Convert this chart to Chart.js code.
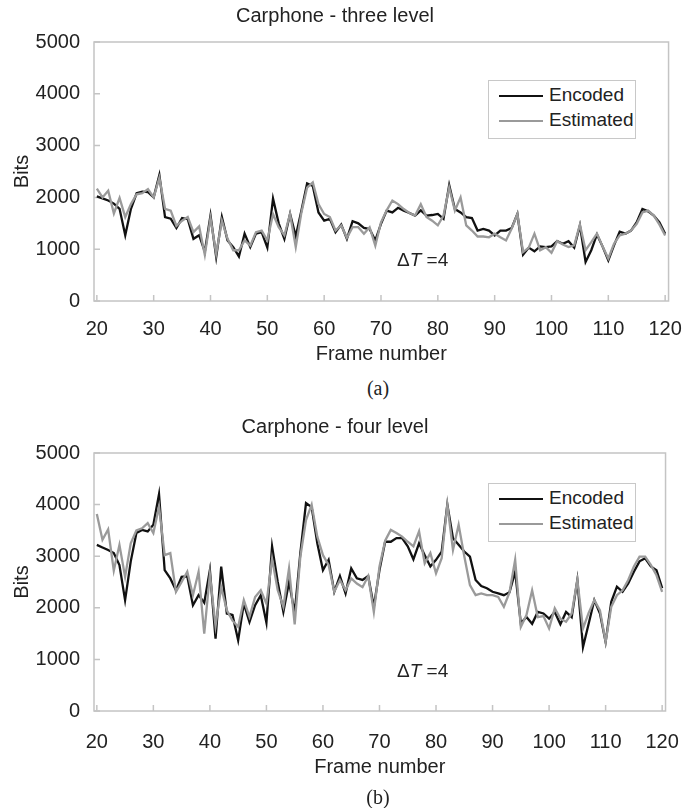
<!DOCTYPE html>
<html lang="en">
<head>
<meta charset="UTF-8" />
<title>Carphone - bits per frame</title>
<script src="https://cdn.jsdelivr.net/npm/chart.js"></script>
<style>
  html, body { margin: 0; padding: 0; background: #fff; }
  .page { position: relative; width: 698px; height: 808px; overflow: hidden;
          font-family: "Liberation Sans", Arial, sans-serif; color: #222; }
  .panel { position: absolute; left: 0; width: 698px; }
  .legend { position: absolute; left: 488px; width: 146px; height: 57px;
            border: 1px solid #c8c8c8; background: #fff; font-size: 19px; }
  .legend .item { position: absolute; left: 10px; height: 22px; line-height: 22px; white-space: nowrap; }
  .legend .swatch { display: inline-block; width: 44px; height: 2px; vertical-align: middle; margin-right: 6px; }
  .dt { position: absolute; left: 397px; font-size: 19px; line-height: 22px; white-space: nowrap; }
  .dt i { font-style: italic; }
  .caption { position: absolute; left: 0; width: 756px; text-align: center;
             font-family: "Liberation Serif", "Times New Roman", serif; font-size: 20px; line-height: 24px; }
</style>
</head>
<body>
<div class="page">
  <canvas id="chartA" class="panel" width="698" height="370" style="top:0"></canvas>
  <canvas id="chartB" class="panel" width="698" height="380" style="top:411px"></canvas>

  <div class="legend" style="top:80px">
    <div class="item" style="top:3px"><span class="swatch" style="background:#111"></span>Encoded</div>
    <div class="item" style="top:28px"><span class="swatch" style="background:#9a9a9a"></span>Estimated</div>
  </div>
  <div class="legend" style="top:483px">
    <div class="item" style="top:3px"><span class="swatch" style="background:#111"></span>Encoded</div>
    <div class="item" style="top:28px"><span class="swatch" style="background:#9a9a9a"></span>Estimated</div>
  </div>

  <div class="dt" style="top:249px">&Delta;<i>T</i> =4</div>
  <div class="dt" style="top:660px">&Delta;<i>T</i> =4</div>

  <div class="caption" style="top:376px">(a)</div>
  <div class="caption" style="top:785px">(b)</div>
</div>

<script>
  // frame numbers 20..120
  const frames = Array.from({ length: 101 }, (_, i) => 20 + i);
  const xTicks = [20, 30, 40, 50, 60, 70, 80, 90, 100, 110, 120];
  const yTicks = [0, 1000, 2000, 3000, 4000, 5000];

  // (a) three level
  const threeEncoded = [
    2020, 1980, 1940, 1880, 1780, 1270, 1780, 2080, 2110, 2100,
    2000, 2430, 1620, 1590, 1410, 1600, 1580, 1200, 1270, 950,
    1650, 850, 1620, 1170, 1040, 860, 1300, 1040, 1300, 1330,
    1030, 1980, 1500, 1200, 1680, 1250, 1745, 2270, 2220, 1710,
    1550, 1585, 1330, 1475, 1200, 1540, 1500, 1410, 1390, 1170,
    1490, 1745, 1710, 1800, 1745, 1700, 1650, 1750, 1650, 1660,
    1680, 1585, 2240, 1775, 1710, 1620, 1600, 1360, 1390, 1360,
    1265, 1360, 1360, 1410, 1680, 895, 1030, 960, 1055, 1040,
    1055, 1155, 1105, 1155, 1030, 1460, 755, 980, 1285, 1050,
    785, 1075, 1340, 1300, 1360, 1520, 1775, 1730, 1650, 1520,
    1300
  ];
  const threeEstimated = [
    2170, 2000, 2130, 1690, 1990, 1620, 1870, 2060, 2080, 2160,
    2000, 2380, 1780, 1745, 1450, 1550, 1620, 1330, 1440, 890,
    1600, 910, 1550, 1200, 980, 980, 1170, 1070, 1330, 1360,
    1170, 1680, 1425, 1270, 1680, 1040, 1710, 2190, 2290, 1870,
    1680, 1620, 1360, 1460, 1220, 1425, 1425, 1300, 1425, 1070,
    1520, 1750, 1940, 1870, 1775, 1700, 1650, 1870, 1620, 1550,
    1460, 1650, 2190, 1745, 2000, 1460, 1360, 1245, 1245, 1230,
    1300, 1230, 1170, 1400, 1680, 945, 1030, 1300, 980, 1040,
    930, 1155, 1090, 1040, 1075, 1475, 980, 1135, 1300, 1050,
    820, 1105, 1265, 1300, 1360, 1490, 1710, 1745, 1650, 1475,
    1265
  ];

  // (b) four level
  const fourEncoded = [
    3220, 3170, 3120, 3060, 2830, 2150, 2900, 3450, 3510, 3480,
    3610, 4200, 2730, 2570, 2340, 2600, 2610, 2050, 2245, 2100,
    2730, 1400, 2800, 1890, 1860, 1370, 2080, 1725, 2050, 2245,
    1710, 3190, 2500, 1920, 2500, 1900, 3060, 4030, 3950, 3250,
    2730, 2930, 2310, 2615, 2280, 2765, 2570, 2540, 2615, 2020,
    2730, 3280, 3280, 3350, 3350, 3190, 2940, 3250, 3020, 2800,
    2930, 3090, 4000, 3350, 3220, 3090, 2990, 2540, 2420, 2380,
    2310, 2280, 2245, 2300, 2700, 1700, 1820, 1690, 1920, 1890,
    1790, 1920, 1680, 1920, 1820, 2540, 1240, 1690, 2150, 1890,
    1340, 2115, 2410, 2310, 2470, 2700, 2900, 2960, 2800, 2730,
    2380
  ];
  const fourEstimated = [
    3820, 3320, 3520, 2720, 3220, 2600, 3250, 3500, 3540, 3640,
    3450, 3960, 3020, 3060, 2310, 2500, 2700, 2245, 2700, 1500,
    2650, 1650, 2400, 1950, 1750, 1630, 2150, 1825, 2210, 2340,
    2080, 2950, 2340, 2020, 2765, 1680, 2990, 3700, 4000, 3380,
    3020, 2830, 2310, 2540, 2340, 2570, 2470, 2400, 2615, 1920,
    2800, 3300, 3510, 3450, 3380, 3280, 3190, 3480, 2860, 3060,
    2670, 2960, 4000, 3120, 3610, 3000, 2440, 2245, 2280, 2245,
    2245, 2210, 2020, 2300, 2930, 1630, 1860, 2340, 1820, 1840,
    1600, 1990, 1790, 1730, 1890, 2540, 1600, 1900, 2150, 1950,
    1340, 2020, 2245, 2340, 2540, 2800, 2990, 2990, 2830, 2630,
    2310
  ];

  // light grey plot frame with short inward tick marks
  const plotFrame = {
    id: 'plotFrame',
    beforeDatasetsDraw(chart) {
      const { ctx, chartArea: a, scales } = chart;
      ctx.save();
      ctx.strokeStyle = '#c4c4c4';
      ctx.lineWidth = 1.5;
      ctx.strokeRect(a.left, a.top, a.right - a.left, a.bottom - a.top);
      ctx.beginPath();
      xTicks.forEach(v => {
        const px = scales.x.getPixelForValue(v);
        ctx.moveTo(px, a.bottom);
        ctx.lineTo(px, a.bottom - 6);
      });
      yTicks.forEach(v => {
        const py = scales.y.getPixelForValue(v);
        ctx.moveTo(a.left, py);
        ctx.lineTo(a.left + 6, py);
      });
      ctx.stroke();
      ctx.restore();
    }
  };

  function makeChart(id, title, encoded, estimated, xHeight, labelPad, xTitlePad) {
    const font = { family: '"Liberation Sans", Arial, sans-serif', size: 20 };
    return new Chart(document.getElementById(id), {
      type: 'line',
      data: {
        datasets: [
          {
            label: 'Encoded',
            data: frames.map((f, i) => ({ x: f, y: encoded[i] })),
            borderColor: '#111',
            borderWidth: 2.3,
            pointRadius: 0,
            tension: 0,
            order: 1
          },
          {
            label: 'Estimated',
            data: frames.map((f, i) => ({ x: f, y: estimated[i] })),
            borderColor: '#9a9a9a',
            borderWidth: 2.3,
            pointRadius: 0,
            tension: 0,
            order: 0
          }
        ]
      },
      options: {
        responsive: false,
        animation: false,
        devicePixelRatio: 1,
        layout: { padding: { left: 0, right: 28, top: 0, bottom: 0 } },
        plugins: {
          legend: { display: false },
          tooltip: { enabled: false },
          title: {
            display: true,
            text: title,
            color: '#222',
            font: { ...font, weight: 'normal' },
            padding: { top: 4, bottom: 14 }
          }
        },
        scales: {
          x: {
            type: 'linear',
            min: 19.5,
            max: 120.6,
            afterFit: s => { s.height = xHeight; },
            afterBuildTicks: s => { s.ticks = xTicks.map(v => ({ value: v })); },
            grid: { display: false, drawTicks: false },
            border: { display: false },
            ticks: { color: '#222', font, padding: labelPad, maxRotation: 0, callback: v => String(v) },
            title: { display: true, text: 'Frame number', color: '#222', font, padding: { top: 0, bottom: xTitlePad } }
          },
          y: {
            min: 0,
            max: 5000,
            afterFit: s => { s.width = 94; },
            afterBuildTicks: s => { s.ticks = yTicks.map(v => ({ value: v })); },
            grid: { display: false, drawTicks: false },
            border: { display: false },
            ticks: { color: '#222', font, padding: 14, callback: v => String(v) },
            title: { display: true, text: 'Bits', color: '#222', font, padding: { top: 10, bottom: 0 } }
          }
        }
      },
      plugins: [plotFrame]
    });
  }

  makeChart('chartA', 'Carphone - three level', threeEncoded, threeEstimated, 69, 16, 4);
  makeChart('chartB', 'Carphone - four level', fourEncoded, fourEstimated, 80, 19, 12);
</script>
</body>
</html>
